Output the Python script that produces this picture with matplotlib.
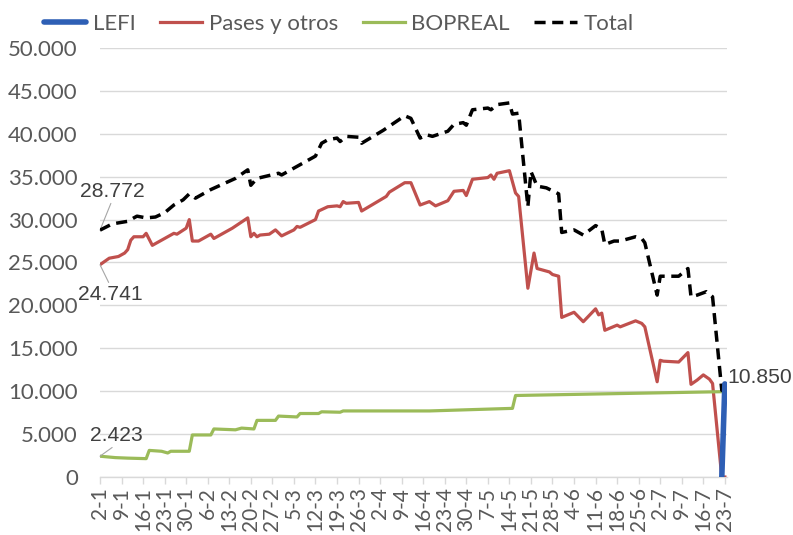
import datetime as dt
import numpy as np
import matplotlib
matplotlib.use("Agg")
import matplotlib.pyplot as plt
from matplotlib.ticker import FuncFormatter

YEAR = 2024
START = dt.date(YEAR, 1, 2)
END = dt.date(YEAR, 7, 23)

# valores (millones de US$), fechas "d-m"
total_dates = ["2-1", "6-1", "11-1", "14-1", "17-1", "20-1", "23-1", "26-1", "29-1", "31-1",
               "2-2", "7-2", "15-2", "19-2", "20-2", "22-2", "29-2", "1-3", "12-3", "14-3",
               "16-3", "19-3", "20-3", "22-3", "26-3", "27-3", "3-4", "10-4", "12-4", "15-4",
               "17-4", "19-4", "24-4", "26-4", "29-4", "30-4", "2-5", "7-5", "8-5", "10-5",
               "14-5", "15-5", "17-5", "20-5", "21-5", "23-5", "26-5", "30-5", "31-5", "4-6",
               "7-6", "11-6", "13-6", "14-6", "17-6", "19-6", "24-6", "26-6", "27-6", "1-7",
               "2-7", "8-7", "11-7", "12-7", "14-7", "17-7", "19-7", "22-7", "23-7"]
total_vals = [28772, 29500, 29800, 30400, 30200, 30300, 30800, 31700, 32300, 33000,
              32500, 33500, 34800, 35800, 34000, 34800, 35400, 35200, 37400, 38900,
              39300, 39500, 39100, 39700, 39600, 38900, 40400, 42100, 41800, 39500,
              39900, 39700, 40300, 41100, 41300, 41000, 42800, 43000, 42800, 43400,
              43600, 42300, 42400, 31500, 35600, 33900, 33700, 33000, 28500, 28800,
              28200, 29300, 28900, 27100, 27500, 27500, 28000, 27800, 27300, 21200,
              23400, 23400, 24300, 21000, 21200, 21600, 21000, 10100, 10000]

pases_dates = ["2-1", "5-1", "8-1", "10-1", "11-1", "12-1", "13-1", "16-1", "17-1", "19-1",
               "26-1", "27-1", "30-1", "31-1", "1-2", "3-2", "7-2", "8-2", "14-2", "19-2",
               "20-2", "21-2", "22-2", "23-2", "26-2", "28-2", "1-3", "5-3", "6-3", "7-3",
               "12-3", "13-3", "16-3", "19-3", "20-3", "21-3", "22-3", "26-3", "27-3", "4-4",
               "5-4", "10-4", "12-4", "15-4", "18-4", "20-4", "24-4", "26-4", "29-4", "30-4",
               "2-5", "7-5", "8-5", "9-5", "10-5", "14-5", "16-5", "17-5", "20-5", "22-5",
               "23-5", "27-5", "28-5", "30-5", "31-5", "4-6", "7-6", "11-6", "12-6", "13-6",
               "14-6", "18-6", "19-6", "24-6", "26-6", "27-6", "1-7", "2-7", "3-7", "8-7",
               "11-7", "12-7", "14-7", "16-7", "18-7", "19-7", "22-7", "23-7"]
pases_vals = [24741, 25500, 25700, 26100, 26500, 27600, 28000, 28000, 28400, 27000,
              28400, 28300, 29000, 30000, 27500, 27500, 28300, 27800, 29000, 30200,
              28000, 28400, 28000, 28200, 28300, 28800, 28100, 28800, 29200, 29100,
              30000, 31000, 31500, 31600, 31500, 32100, 31900, 32000, 31000, 32700,
              33200, 34300, 34300, 31700, 32100, 31600, 32200, 33300, 33400, 32800,
              34700, 34900, 35200, 34700, 35400, 35700, 33100, 32700, 22000, 26100,
              24300, 23900, 23600, 23400, 18600, 19200, 18100, 19600, 18900, 19100,
              17100, 17700, 17500, 18200, 17900, 17500, 11100, 13600, 13500, 13400,
              14500, 10800, 11300, 11900, 11400, 10900, 0, 0]

bopreal_dates = ["2-1", "7-1", "11-1", "17-1", "18-1", "22-1", "24-1", "25-1", "31-1", "1-2",
                 "7-2", "8-2", "15-2", "17-2", "21-2", "22-2", "28-2", "29-2", "6-3", "7-3",
                 "13-3", "14-3", "20-3", "21-3", "18-4", "15-5", "16-5", "15-6", "23-7"]
bopreal_vals = [2423, 2260, 2200, 2140, 3100, 3000, 2800, 3000, 3000, 4900,
                4900, 5600, 5500, 5700, 5600, 6600, 6600, 7100, 7000, 7400,
                7400, 7600, 7550, 7700, 7700, 8000, 9500, 9700, 9950]

lefi_dates = ["22-7", "23-7"]
lefi_vals = [0, 10850]


def to_days(labels):
    out = []
    for s in labels:
        d, m = s.split("-")
        out.append((dt.date(YEAR, int(m), int(d)) - START).days)
    return np.array(out)


def miles(v, pos=None):
    return f"{v:,.0f}".replace(",", ".")


GRAY = "#595959"
plt.rcParams["font.family"] = ["Lato", "DejaVu Sans"]

fig = plt.figure(figsize=(7.93, 5.35), dpi=100)
ax = fig.add_axes([0.1261, 0.1084, 0.7907, 0.8019])

l_lefi, = ax.plot(to_days(lefi_dates), lefi_vals, color="#2E5FB5", lw=4.0,
                  solid_capstyle="round", zorder=5, label="LEFI")
l_pases, = ax.plot(to_days(pases_dates), pases_vals, color="#C0504D", lw=2.3,
                   zorder=3, label="Pases y otros")
l_bop, = ax.plot(to_days(bopreal_dates), bopreal_vals, color="#9BBB59", lw=2.3,
                 zorder=3, label="BOPREAL")
l_tot, = ax.plot(to_days(total_dates), total_vals, color="black", lw=2.5,
                 ls=(0, (3.2, 1.9)), zorder=4, label="Total")

# etiquetas de datos
lab_font = dict(family="Liberation Sans", size=15.2, color="#404040")
arrow = dict(arrowstyle="-", color="#A6A6A6", lw=0.8, shrinkA=0, shrinkB=0)
d0 = to_days(total_dates)[0]
ax.annotate(miles(total_vals[0]), (d0, total_vals[0]), xytext=(12, 39),
            textcoords="offset pixels", ha="center", va="center",
            arrowprops=dict(arrow, relpos=(0.5, 0.0)), **lab_font)
ax.annotate(miles(pases_vals[0]), (d0, pases_vals[0]), xytext=(10, -30),
            textcoords="offset pixels", ha="center", va="center",
            arrowprops=dict(arrow, relpos=(0.5, 1.0)), **lab_font)
ax.annotate(miles(bopreal_vals[0]), (d0, bopreal_vals[0]), xytext=(16, 21),
            textcoords="offset pixels", ha="center", va="center",
            arrowprops=dict(arrow, relpos=(0.5, 0.0)), **lab_font)
ax.annotate(miles(lefi_vals[-1]), (to_days(lefi_dates)[-1], lefi_vals[-1]),
            xytext=(3, 6), textcoords="offset pixels", ha="left", va="center",
            annotation_clip=False, **lab_font)

ax.set_ylim(0, 50000)
ax.set_yticks(np.arange(0, 50001, 5000))
ax.yaxis.set_major_formatter(FuncFormatter(miles))
ax.set_xlim(0, (END - START).days + 0.7)

week_days = np.arange(0, (END - START).days + 1, 7)
week_labels = []
for n in week_days:
    d = START + dt.timedelta(days=int(n))
    week_labels.append(f"{d.day}-{d.month}")
ax.set_xticks(week_days)
ax.set_xticklabels(week_labels, rotation=90)

ax.grid(axis="y", color="#D9D9D9", lw=1.0)
ax.set_axisbelow(True)
for s in ["top", "right", "left"]:
    ax.spines[s].set_visible(False)
ax.spines["bottom"].set_color("#D9D9D9")
ax.spines["bottom"].set_linewidth(1.0)
ax.tick_params(axis="y", length=0, pad=16, labelsize=16, labelcolor=GRAY)
ax.tick_params(axis="x", length=5, width=1.0, color="#D9D9D9", pad=2,
               labelsize=15, labelcolor=GRAY)

fig.legend(handles=[l_lefi, l_pases, l_bop, l_tot], loc="center",
           bbox_to_anchor=(0.427, 0.956), ncol=4, frameon=False, fontsize=16,
           labelcolor=GRAY, handlelength=1.9, handletextpad=0.3,
           columnspacing=1.1)

fig.savefig("out.png", dpi=100)
